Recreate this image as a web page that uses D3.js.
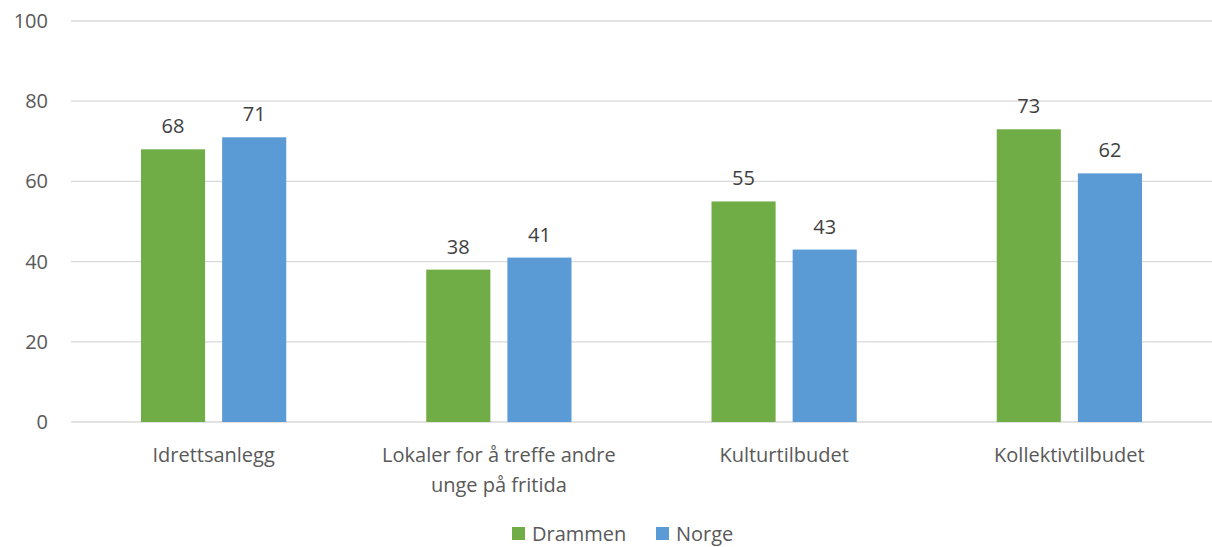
<!DOCTYPE html>
<html>
<head>
    <script src="https://d3js.org/d3.v7.min.js" charset="utf-8"></script>
    <style type="text/css">
        body { margin: 0; background: #fff; }
        text { font-family: "Open Sans", sans-serif; }
        .tick text { fill: #595959; font-size: 20px; }
        .val { fill: #404040; font-size: 20px; }
    </style>
</head>
<body>

<svg height="547" width="1212"></svg>

<script>
    var categories = [["Idrettsanlegg"], ["Lokaler for å treffe andre", "unge på fritida"], ["Kulturtilbudet"], ["Kollektivtilbudet"]]
    var seriesNames = ["Drammen", "Norge"]
    var drammen = [68, 38, 55, 73]
    var norge = [71, 41, 43, 62]
    var yTicks = [0, 20, 40, 60, 80, 100]
    var colors = ["#70AD47", "#5B9BD5"]

    var svg = d3.select("svg")
    var padding = {top: 21, right: 0, bottom: 125, left: 71}
    var width = 1212 - padding.left - padding.right
    var height = 547 - padding.top - padding.bottom

    var g = svg.append("g")
        .attr("transform", "translate(" + padding.left + "," + padding.top + ")")

    var x = d3.scaleBand()
        .domain(d3.range(categories.length))
        .range([0, width])
    var xs = d3.scaleBand()
        .domain(seriesNames)
        .range([70, x.bandwidth() - 70])
        .paddingInner(0.21)
    var y = d3.scaleLinear()
        .domain([0, 100])
        .range([height, 0])

    // gridlines
    g.selectAll(".grid")
        .data(yTicks)
        .enter()
        .append("line")
        .attr("x1", 0)
        .attr("x2", width)
        .attr("y1", function(d) { return y(d); })
        .attr("y2", function(d) { return y(d); })
        .attr("stroke", "#d9d9d9")
        .attr("stroke-width", 1.3)

    var yAxis = g.append("g")
        .call(d3.axisLeft(y).tickValues(yTicks).tickSize(0).tickPadding(23))
    yAxis.select(".domain").remove()
    yAxis.attr("font-family", null).attr("font-size", null)

    var groups = g.selectAll(".grp")
        .data(categories)
        .enter()
        .append("g")
        .attr("transform", function(d, i) { return "translate(" + x(i) + ",0)"; })

    var series = [drammen, norge]
    series.forEach(function(vals, s) {
        groups.append("rect")
            .attr("x", xs(seriesNames[s]))
            .attr("width", xs.bandwidth())
            .attr("y", function(d, i) { return y(vals[i]); })
            .attr("height", function(d, i) { return height - y(vals[i]); })
            .attr("fill", colors[s])

        groups.append("text")
            .attr("class", "val")
            .attr("text-anchor", "middle")
            .attr("x", xs(seriesNames[s]) + xs.bandwidth() / 2)
            .attr("y", function(d, i) { return y(vals[i]) - 16; })
            .text(function(d, i) { return vals[i]; })
    })

    // category labels
    groups.append("text")
        .attr("text-anchor", "middle")
        .attr("y", height + 40)
        .selectAll("tspan")
        .data(function(d) { return d; })
        .enter()
        .append("tspan")
        .attr("x", x.bandwidth() / 2)
        .attr("dy", function(d, i) { return i ? 30 : 0; })
        .attr("fill", "#595959")
        .attr("font-size", "20px")
        .text(function(d) { return d; })

    // legend
    var legendX = [512, 656]
    var legend = svg.selectAll(".leg")
        .data(seriesNames)
        .enter()
        .append("g")
        .attr("transform", function(d, i) { return "translate(" + legendX[i] + ",527)"; })
    legend.append("rect")
        .attr("width", 13)
        .attr("height", 13)
        .attr("fill", function(d, i) { return colors[i]; })
    legend.append("text")
        .attr("x", 20)
        .attr("y", 14)
        .attr("fill", "#595959")
        .attr("font-size", "20px")
        .text(function(d) { return d; })
</script>
</body>
</html>
